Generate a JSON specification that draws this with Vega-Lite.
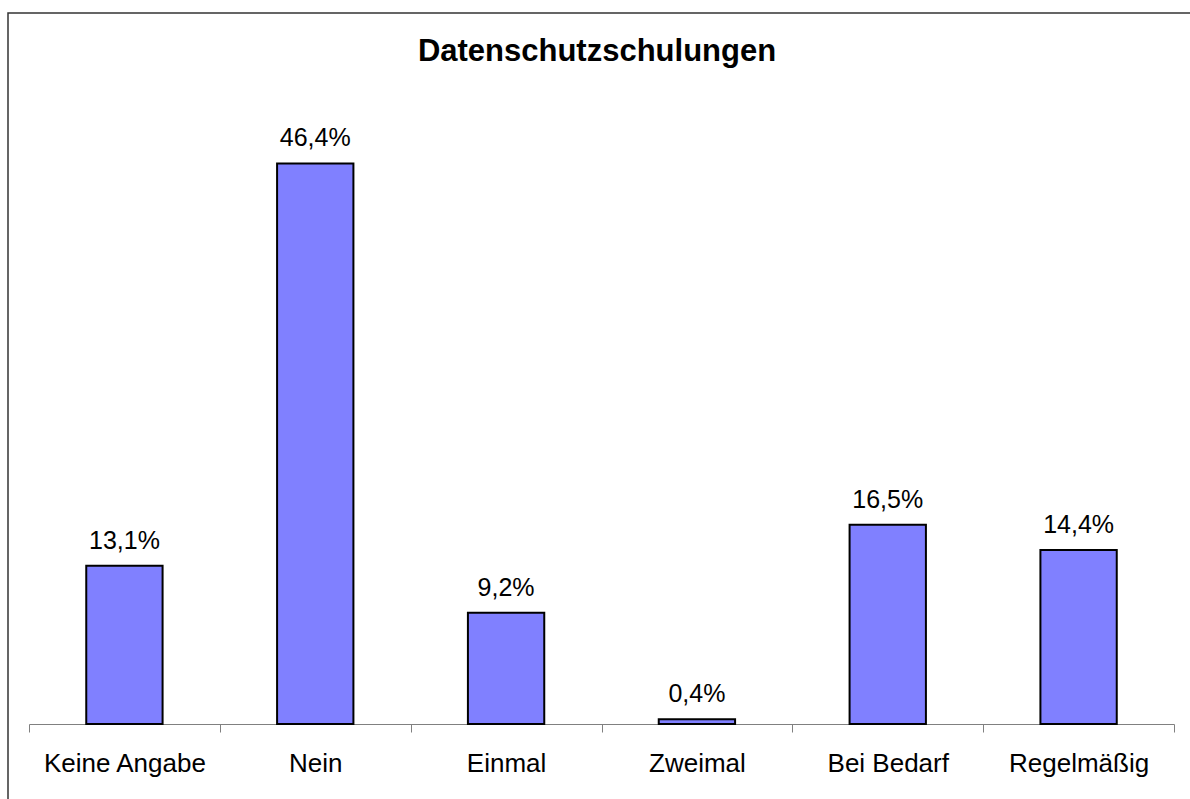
{
  "$schema": "https://vega.github.io/schema/vega-lite/v6.json",
  "width": 1190,
  "height": 800,
  "autosize": {"type": "none"},
  "padding": {"left": 8, "top": 13, "right": 0, "bottom": 0},
  "background": "white",
  "config": {
    "view": {"stroke": "#333333", "strokeWidth": 1.5},
    "locale": {"number": {"decimal": ",", "thousands": ".", "grouping": [3], "currency": ["", " €"]}},
    "font": "Liberation Sans"
  },
  "title": {
    "text": "Datenschutzschulungen",
    "fontSize": 31,
    "fontWeight": "bold",
    "font": "Liberation Sans",
    "color": "black",
    "anchor": "middle",
    "baseline": "alphabetic",
    "offset": -79,
    "dx": -6
  },
  "datasets": {
    "main": [
      {"cat": "Keine Angabe", "share": 0.131},
      {"cat": "Nein", "share": 0.464},
      {"cat": "Einmal", "share": 0.092},
      {"cat": "Zweimal", "share": 0.004},
      {"cat": "Bei Bedarf", "share": 0.165},
      {"cat": "Regelmäßig", "share": 0.144}
    ]
  },
  "data": {"name": "main"},
  "encoding": {
    "x": {
      "field": "cat",
      "type": "nominal",
      "sort": null,
      "scale": {"range": [21, 1166], "paddingInner": 0, "paddingOuter": 0},
      "axis": {
        "title": null,
        "orient": "bottom",
        "offset": -89,
        "domainColor": "#808080",
        "domainWidth": 1,
        "tickColor": "#808080",
        "tickSize": 8,
        "tickBand": "extent",
        "labelFontSize": 26,
        "labelColor": "black",
        "labelPadding": 18,
        "labelFont": "Liberation Sans",
        "labelAngle": 0,
        "grid": false
      }
    },
    "y": {
      "field": "share",
      "type": "quantitative",
      "scale": {"domain": [0, 0.5], "range": [711, 107]},
      "axis": null
    }
  },
  "layer": [
    {
      "mark": {"type": "bar", "fill": "#8080FF", "stroke": "black", "strokeWidth": 2, "width": {"band": 0.4}}
    },
    {
      "mark": {"type": "text", "dy": -17, "baseline": "alphabetic", "fontSize": 25, "color": "black", "font": "Liberation Sans"},
      "encoding": {"text": {"field": "share", "type": "quantitative", "format": ".1%"}}
    }
  ]
}
